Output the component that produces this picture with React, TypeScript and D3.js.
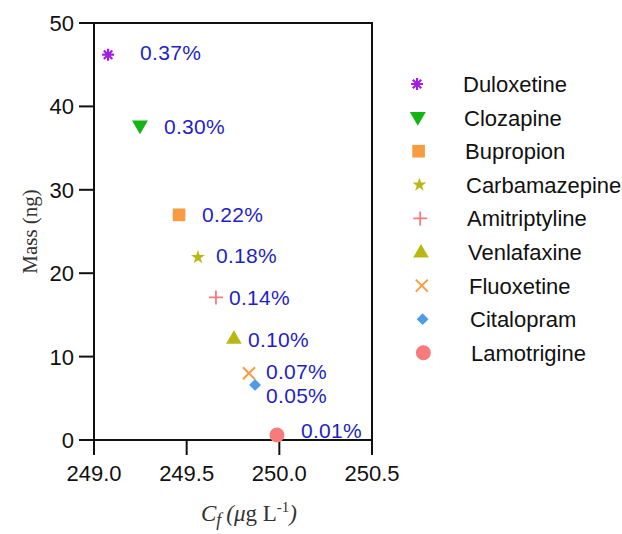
import React from "react";
import * as d3 from "d3";

// Drug names, equilibrium concentration (µg/L), extracted mass (ng) and labels
const drugs = [
  "Duloxetine",
  "Clozapine",
  "Bupropion",
  "Carbamazepine",
  "Amitriptyline",
  "Venlafaxine",
  "Fluoxetine",
  "Citalopram",
  "Lamotrigine",
];
const cfValues = [249.076, 249.248, 249.459, 249.561, 249.658, 249.755, 249.836, 249.869, 249.987];
const massValues = [46.2, 37.65, 27.0, 21.9, 17.1, 12.2, 8.0, 6.6, 0.6];
const depletionLabels = ["0.37%", "0.30%", "0.22%", "0.18%", "0.14%", "0.10%", "0.07%", "0.05%", "0.01%"];

const xTicks = [249.0, 249.5, 250.0, 250.5];
const yTicks = [0, 10, 20, 30, 40, 50];

// Marker styling per drug
type Marker = { kind: string; color: string };
const markers: Marker[] = [
  { kind: "asterisk", color: "#a21de6" },
  { kind: "triangleDown", color: "#13b513" },
  { kind: "square", color: "#f89c42" },
  { kind: "star", color: "#b8b814" },
  { kind: "plus", color: "#f7797f" },
  { kind: "triangleUp", color: "#b8b814" },
  { kind: "times", color: "#f89c42" },
  { kind: "diamond", color: "#4f9be8" },
  { kind: "circle", color: "#f77b7b" },
];

// Label placement relative to each point (text start, vertical centre)
const labelOffsets: [number, number][] = [
  [32, -2],
  [24, 1],
  [23, 0],
  [18, -2],
  [13, 0],
  [14, 1],
  [17, -2],
  [11, 11],
  [24, -4],
];

const W = 622;
const H = 534;
const plot = { left: 94, right: 372, top: 23, bottom: 440 };

const xScale = d3.scaleLinear().domain([249.0, 250.5]).range([plot.left, plot.right]);
const yScale = d3.scaleLinear().domain([0, 50]).range([plot.bottom, plot.top]);

const sans = "'Liberation Sans', Arial, sans-serif";
const serif = "'Liberation Serif', 'Times New Roman', serif";

function MarkerShape({ m, x, y }: { m: Marker; x: number; y: number }) {
  const t = `translate(${x},${y})`;
  switch (m.kind) {
    case "asterisk": {
      const r = 6;
      const lines = [0, 45, 90, 135].map((a) => {
        const rad = (a * Math.PI) / 180;
        return `M${-r * Math.cos(rad)},${-r * Math.sin(rad)}L${r * Math.cos(rad)},${r * Math.sin(rad)}`;
      });
      return <path transform={t} d={lines.join("")} stroke={m.color} strokeWidth={2.2} fill="none" />;
    }
    case "triangleDown":
      return (
        <path
          transform={`${t} rotate(180) translate(0,1)`}
          d={d3.symbol(d3.symbolTriangle, 110)() || ""}
          fill={m.color}
        />
      );
    case "triangleUp":
      return (
        <path transform={`${t} translate(0,1)`} d={d3.symbol(d3.symbolTriangle, 105)() || ""} fill={m.color} />
      );
    case "square":
      return <path transform={t} d={d3.symbol(d3.symbolSquare, 160)() || ""} fill={m.color} />;
    case "star":
      return <path transform={t} d={d3.symbol(d3.symbolStar, 60)() || ""} fill={m.color} />;
    case "plus": {
      const r = 7;
      return (
        <path transform={t} d={`M${-r},0L${r},0M0,${-r}L0,${r}`} stroke={m.color} strokeWidth={1.8} fill="none" />
      );
    }
    case "times": {
      const r = 6;
      return (
        <path
          transform={t}
          d={`M${-r},${-r}L${r},${r}M${-r},${r}L${r},${-r}`}
          stroke={m.color}
          strokeWidth={2}
          fill="none"
        />
      );
    }
    case "diamond":
      return <path transform={`${t} rotate(45)`} d={d3.symbol(d3.symbolSquare, 70)() || ""} fill={m.color} />;
    case "circle":
    default:
      return <circle cx={x} cy={y} r={7.5} fill={m.color} />;
  }
}

export default function App() {
  const legendX = 417;
  const legendTextX = 463;
  const legendY0 = 84;
  const legendStep = 33.6;

  return (
    <svg
      width={W}
      height={H}
      viewBox={`0 0 ${W} ${H}`}
      style={{ position: "absolute", left: 0, top: 0, background: "#fff" }}
    >
      {/* frame */}
      <rect
        x={plot.left}
        y={plot.top}
        width={plot.right - plot.left}
        height={plot.bottom - plot.top}
        fill="none"
        stroke="#111"
        strokeWidth={2}
      />

      {/* y ticks */}
      {yTicks.map((v) => (
        <g key={`y${v}`}>
          <line x1={plot.left - 15} x2={plot.left} y1={yScale(v)} y2={yScale(v)} stroke="#111" strokeWidth={2} />
          <text
            x={plot.left - 20}
            y={yScale(v) + 8}
            textAnchor="end"
            fontFamily={sans}
            fontSize={22}
            fill="#111"
          >
            {v}
          </text>
        </g>
      ))}

      {/* x ticks */}
      {xTicks.map((v) => (
        <g key={`x${v}`}>
          <line x1={xScale(v)} x2={xScale(v)} y1={plot.bottom} y2={plot.bottom + 15} stroke="#111" strokeWidth={2} />
          <text
            x={xScale(v)}
            y={plot.bottom + 41}
            textAnchor="middle"
            fontFamily={sans}
            fontSize={22}
            fill="#111"
          >
            {v.toFixed(1)}
          </text>
        </g>
      ))}

      {/* axis titles */}
      <text
        transform={`translate(37,${(plot.top + plot.bottom) / 2}) rotate(-90)`}
        textAnchor="middle"
        fontFamily={serif}
        fontSize={21}
        fill="#333"
      >
        Mass (ng)
      </text>
      <text x={249} y={521} textAnchor="middle" fontFamily={serif} fontSize={23} fill="#333">
        <tspan fontStyle="italic">C</tspan>
        <tspan fontStyle="italic" fontSize={18} dy={5}>
          f
        </tspan>
        <tspan fontStyle="italic" dy={-5} dx={5}>
          (μ
        </tspan>
        <tspan>g L</tspan>
        <tspan fontSize={15} dy={-9}>
          -1
        </tspan>
        <tspan fontStyle="italic" dy={9}>
          )
        </tspan>
      </text>

      {/* data points */}
      {drugs.map((d, i) => (
        <MarkerShape key={`p${d}`} m={markers[i]} x={xScale(cfValues[i])} y={yScale(massValues[i])} />
      ))}

      {/* depletion labels */}
      {drugs.map((d, i) => (
        <text
          key={`l${d}`}
          x={xScale(cfValues[i]) + labelOffsets[i][0]}
          y={yScale(massValues[i]) + labelOffsets[i][1] + 7.5}
          fontFamily={sans}
          fontSize={21}
          fill="#1f1fc8"
          letterSpacing={0.3}
        >
          {depletionLabels[i]}
        </text>
      ))}

      {/* legend */}
      {drugs.map((d, i) => {
        const y = legendY0 + i * legendStep;
        return (
          <g key={`lg${d}`}>
            <MarkerShape m={markers[i]} x={legendX + i * 0.8} y={y} />
            <text x={legendTextX + i * 1} y={y + 8} fontFamily={sans} fontSize={22} fill="#111">
              {d}
            </text>
          </g>
        );
      })}
    </svg>
  );
}
